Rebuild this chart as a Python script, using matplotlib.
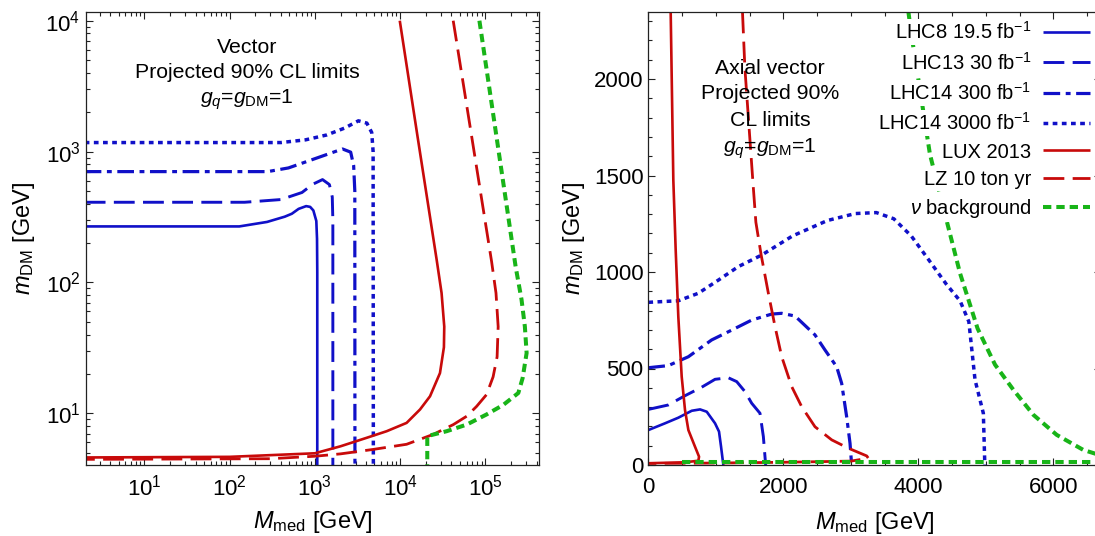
import matplotlib
matplotlib.use("Agg")
import matplotlib.pyplot as plt
from matplotlib.ticker import LogLocator, MultipleLocator, NullFormatter

plt.rcParams['font.family'] = ['Liberation Sans', 'DejaVu Sans']
plt.rcParams['mathtext.fontset'] = 'custom'
plt.rcParams['mathtext.rm'] = 'Liberation Sans'
plt.rcParams['mathtext.it'] = 'Liberation Sans:italic'
plt.rcParams['mathtext.bf'] = 'Liberation Sans:bold'
plt.rcParams['lines.scale_dashes'] = False

# ---- vector mediator (left, log-log) ----
vec_lhc8_x = [2, 130, 275, 443, 537, 645, 790, 880, 960, 1040, 1060, 1067, 1067]
vec_lhc8_y = [268, 268, 290, 318, 335, 365, 383, 378, 355, 295, 215, 120, 4]
vec_lhc13_x = [2, 150, 400, 707, 940, 1230, 1480, 1600, 1625, 1625]
vec_lhc13_y = [410, 410, 430, 487, 562, 611, 560, 450, 300, 4]
vec_lhc300_x = [2, 280, 490, 850, 1380, 2110, 2630, 2850, 2940, 2950]
vec_lhc300_y = [703, 703, 750, 850, 950, 1047, 990, 780, 500, 4]
vec_lhc3000_x = [2, 400, 780, 1380, 2220, 3240, 4070, 4640, 4820, 4850]
vec_lhc3000_y = [1172, 1172, 1230, 1340, 1510, 1718, 1650, 1400, 1000, 4]
vec_lux_x = [9900, 16000, 26800, 30600, 32900, 32600, 29300, 22400, 17100, 11900,
             6950, 4050, 2000, 1000, 100, 2]
vec_lux_y = [1e4, 1300, 149, 83, 46, 32, 20.3, 13.5, 10.7, 8.45,
             7.3, 6.5, 5.6, 4.95, 4.65, 4.6]
vec_lz_x = [41900, 118000, 133000, 141000, 137000, 123000, 103000, 78800, 60300, 42000,
            24400, 11900, 4840, 2000, 1000, 300, 2]
vec_lz_y = [1e4, 145, 83, 46, 27, 19, 13.9, 11.3, 9.5, 8.2,
            6.9, 5.8, 5.3, 4.9, 4.7, 4.5, 4.45]
vec_nu_x = [85000, 226000, 265000, 290000, 304000, 273000, 243000, 162000, 103000, 60300,
            35100, 20800, 20800]
vec_nu_y = [1e4, 132, 74, 46, 28.9, 18.6, 14.3, 11.6, 9.8, 8.2,
            7.3, 6.7, 4]

# ---- axial-vector mediator (right, linear) ----
ax_lhc8_x = [0, 247, 444, 643, 766, 865, 988, 1047, 1077, 1111]
ax_lhc8_y = [181, 216, 245, 281, 288, 276, 216, 173, 95, 0]
ax_lhc13_x = [0, 296, 543, 790, 988, 1185, 1309, 1432, 1531, 1654, 1704, 1738]
ax_lhc13_y = [288, 311, 359, 403, 444, 452, 432, 380, 320, 268, 147, 0]
ax_lhc300_x = [0, 296, 593, 938, 1235, 1531, 1827, 1975, 2173, 2469, 2617, 2790,
               2864, 2938, 2988, 3012]
ax_lhc300_y = [504, 515, 561, 648, 699, 751, 782, 786, 772, 674, 596, 509,
               423, 250, 112, 0]
ax_lhc3000_x = [0, 444, 741, 1037, 1333, 1679, 2136, 2653, 3067, 3378, 3636, 3895,
                4154, 4412, 4619, 4748, 4840, 4963, 4985]
ax_lhc3000_y = [843, 851, 890, 958, 1028, 1088, 1187, 1267, 1303, 1308, 1276, 1187,
                1063, 938, 850, 743, 441, 268, 0]
ax_lux_x = [331, 370, 405, 444, 494, 543, 593, 691, 751, 741, 543, 0]
ax_lux_y = [2345, 1477, 1114, 768, 458, 285, 181, 95, 43, 22, 14, 9]
ax_lz_x = [1395, 1430, 1547, 1593, 1670, 1778, 1877, 1976, 2124, 2272, 2469, 2717,
           2963, 3235, 3259, 3000, 2000, 1000, 0]
ax_lz_y = [2345, 2058, 1477, 1258, 1091, 890, 717, 561, 406, 302, 198, 130,
           87, 47, 35, 20, 14, 10, 8]
ax_nu_x = [3854, 3895, 4172, 4412, 4619, 4878, 5136, 5407, 5704, 6050, 6444, 6700]
ax_nu_y = [2345, 2236, 1610, 1276, 992, 707, 520, 390, 260, 156, 78, 50]
ax_nu_floor_x = [500, 6700]
ax_nu_floor_y = [14, 14]

labels = [r"LHC8 19.5 fb$^{-1}$", r"LHC13 30 fb$^{-1}$", r"LHC14 300 fb$^{-1}$",
          r"LHC14 3000 fb$^{-1}$", "LUX 2013", "LZ 10 ton yr", r"$\nu$ background"]

blue = '#1010c8'
red = '#c80a0a'
green = '#18b418'
styles = [
    dict(color=blue, lw=1.9),
    dict(color=blue, lw=2.1, dashes=(15, 6)),
    dict(color=blue, lw=2.3, dashes=(12, 4, 3.5, 4)),
    dict(color=blue, lw=2.5, dashes=(3.4, 3.2)),
    dict(color=red, lw=1.9),
    dict(color=red, lw=2.0, dashes=(15, 6)),
    dict(color=green, lw=2.9, dashes=(6, 3.6)),
]

vec_series = [(vec_lhc8_x, vec_lhc8_y), (vec_lhc13_x, vec_lhc13_y),
              (vec_lhc300_x, vec_lhc300_y), (vec_lhc3000_x, vec_lhc3000_y),
              (vec_lux_x, vec_lux_y), (vec_lz_x, vec_lz_y), (vec_nu_x, vec_nu_y)]
ax_series = [(ax_lhc8_x, ax_lhc8_y), (ax_lhc13_x, ax_lhc13_y),
             (ax_lhc300_x, ax_lhc300_y), (ax_lhc3000_x, ax_lhc3000_y),
             (ax_lux_x, ax_lux_y), (ax_lz_x, ax_lz_y), (ax_nu_x, ax_nu_y)]

fig = plt.figure(figsize=(10.95, 5.36), dpi=100)
ax1 = fig.add_axes([0.0785, 0.1325, 0.4140, 0.8446])
ax2 = fig.add_axes([0.5921, 0.1325, 0.4130, 0.8442])

for (xs, ys), st in zip(vec_series, styles):
    ax1.plot(xs, ys, solid_capstyle='butt', dash_capstyle='butt', **st)
for (xs, ys), st, lab in zip(ax_series, styles, labels):
    ax2.plot(xs, ys, label=lab, solid_capstyle='butt', dash_capstyle='butt', **st)
ax2.plot(ax_nu_floor_x, ax_nu_floor_y, dash_capstyle='butt', **styles[6])

ax1.set_xscale('log')
ax1.set_yscale('log')
ax1.set_xlim(2.07, 4.28e5)
ax1.set_ylim(4.03, 1.16e4)
ax1.xaxis.set_major_locator(LogLocator(base=10, numticks=20))
ax1.xaxis.set_minor_locator(LogLocator(base=10, subs=range(2, 10), numticks=20))
ax1.xaxis.set_minor_formatter(NullFormatter())
ax1.yaxis.set_minor_formatter(NullFormatter())

ax2.set_xlim(0, 6700)
ax2.set_ylim(0, 2345)
ax2.xaxis.set_major_locator(MultipleLocator(2000))
ax2.xaxis.set_minor_locator(MultipleLocator(500))
ax2.yaxis.set_major_locator(MultipleLocator(500))
ax2.yaxis.set_minor_locator(MultipleLocator(100))

for ax in (ax1, ax2):
    ax.tick_params(which='both', direction='in', top=True, right=True, width=0.8,
                   colors='#222222', labelcolor='black', labelsize=16)
    ax.tick_params(which='major', length=5)
    ax.tick_params(which='minor', length=2.8)
    for sp in ax.spines.values():
        sp.set_linewidth(0.9)
        sp.set_color('#222222')
ax1.tick_params(axis='x', pad=7)
ax1.tick_params(axis='y', pad=4)
ax2.tick_params(axis='x', pad=9)
ax2.tick_params(axis='y', pad=3.5)

ax1.set_xlabel(r"$M_\mathrm{med}$ [GeV]", fontsize=17, labelpad=6)
ax1.set_ylabel(r"$m_\mathrm{DM}$ [GeV]", fontsize=17, labelpad=6)
ax2.set_xlabel(r"$M_\mathrm{med}$ [GeV]", fontsize=17, labelpad=8)
ax2.set_ylabel(r"$m_\mathrm{DM}$ [GeV]", fontsize=17, labelpad=5)

kw = dict(ha='center', va='baseline', fontsize=15.3)
ax1.text(0.355, 0.910, "Vector", transform=ax1.transAxes, **kw)
ax1.text(0.355, 0.854, "Projected 90% CL limits", transform=ax1.transAxes, **kw)
ax1.text(0.355, 0.797, r"$g_q$=$g_\mathrm{DM}$=1", transform=ax1.transAxes, **kw)
ax2.text(0.269, 0.863, "Axial vector", transform=ax2.transAxes, **kw)
ax2.text(0.269, 0.808, "Projected 90%", transform=ax2.transAxes, **kw)
ax2.text(0.269, 0.750, "CL limits", transform=ax2.transAxes, **kw)
ax2.text(0.269, 0.690, r"$g_q$=$g_\mathrm{DM}$=1", transform=ax2.transAxes, **kw)

leg = ax2.legend(loc='upper right', bbox_to_anchor=(0.976, 0.981), frameon=False,
                 markerfirst=False, fontsize=14.5, handlelength=2.3,
                 handletextpad=0.6, labelspacing=0.42, borderpad=0, borderaxespad=0)
for t in leg.get_texts():
    t.set_bbox(dict(facecolor='white', edgecolor='none', pad=1.5))

fig.savefig('out.png', dpi=100)
